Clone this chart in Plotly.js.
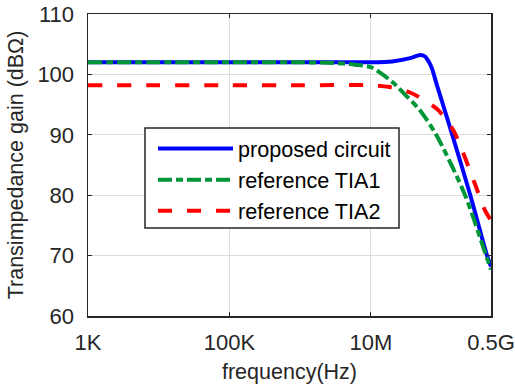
<!DOCTYPE html>
<html>
<head>
<meta charset="utf-8">
<script src="https://cdn.plot.ly/plotly-3.0.1.min.js"></script>
<style>html,body{margin:0;padding:0;background:#fff;}#chart{width:515px;height:389px;}</style>
</head>
<body>
<div id="chart"></div>
<script>
// frequency (Hz) and gain (dBΩ)
const freqProposed = [1e3, 1e5, 1e6, 5e6, 1e7, 2e7, 3.6e7, 5e7, 5.8e7, 6.6e7, 7.3e7, 8.5e7, 1.06e8, 1.45e8, 2.55e8, 4.4e8, 5e8];
const gainProposed = [102.0, 102.0, 102.0, 102.0, 102.0, 102.15, 102.7, 103.2, 103.0, 102.1, 101.0, 98.4, 94.8, 89.6, 80.0, 70.0, 68.2];

const freqTIA1 = [1e3, 1e5, 1e6, 3e6, 6e6, 1e7, 1.35e7, 2.07e7, 3.2e7, 5e7, 8.4e7, 2.15e8, 4.26e8, 5e8];
const gainTIA1 = [102.0, 102.0, 102.0, 101.9, 101.6, 101.2, 100.3, 98.6, 96.4, 94.0, 90.0, 80.0, 70.0, 67.7];

const freqTIA2 = [1e3, 1e5, 1e6, 1e7, 1.86e7, 3.58e7, 8.55e7, 1.47e8, 2.91e8, 4.03e8, 5e8];
const gainTIA2 = [98.2, 98.2, 98.2, 98.2, 97.9, 97.0, 94.3, 90.7, 82.1, 77.7, 75.8];

const seriesNames = ['proposed circuit', 'reference TIA1', 'reference TIA2'];
const xTickVals = [1e3, 1e5, 1e7, 5e8];
const xTickText = ['1K', '100K', '10M', '0.5G'];
const yTickVals = [60, 70, 80, 90, 100, 110];

const FONT = 'Liberation Sans, Arial, Helvetica, sans-serif';
const AX = '#262626';

const traces = [
  {x: freqProposed, y: gainProposed, name: seriesNames[0], mode: 'lines',
   line: {color: '#0000ff', width: 4, shape: 'spline', smoothing: 0.8}},
  {x: freqTIA1, y: gainTIA1, name: seriesNames[1], mode: 'lines',
   line: {color: '#009638', width: 4, dash: '14px,4px,7px,4px', shape: 'spline', smoothing: 0.8}},
  {x: freqTIA2, y: gainTIA2, name: seriesNames[2], mode: 'lines',
   line: {color: '#ff0000', width: 4, dash: '14px,15px', shape: 'spline', smoothing: 0.8}}
];

const layout = {
  width: 515, height: 389,
  margin: {l: 88, r: 24, t: 14, b: 73},
  paper_bgcolor: '#fff', plot_bgcolor: '#fff',
  font: {family: FONT, size: 21, color: AX},
  showlegend: true,
  legend: {
    x: 0.1613, y: 0.6225, xanchor: 'left', yanchor: 'top',
    bgcolor: 'rgba(0,0,0,0)', borderwidth: 0,
    font: {family: FONT, size: 21.6, color: '#000'},
    itemwidth: 75, tracegroupgap: 0
  },
  shapes: [{
    type: 'rect', xref: 'paper', yref: 'paper', layer: 'above',
    x0: 0.1414, x1: 0.7717, y0: 0.2914, y1: 0.6225,
    line: {color: AX, width: 1.5}, fillcolor: '#fff'
  }],
  xaxis: {
    type: 'log', range: [3, Math.log10(5e8)],
    tickvals: xTickVals, ticktext: xTickText,
    ticks: 'inside', ticklen: 4, tickwidth: 1.2, tickcolor: AX,
    showline: true, linecolor: AX, linewidth: 1.5, mirror: 'ticks',
    showgrid: true, gridcolor: '#dedede', gridwidth: 1,
    zeroline: false, ticklabelstandoff: 6,
    tickfont: {family: FONT, size: 22, color: AX},
    title: {text: 'frequency(Hz)', font: {family: FONT, size: 21.5, color: AX}, standoff: 10}
  },
  yaxis: {
    range: [60, 110], tickvals: yTickVals,
    ticks: 'inside', ticklen: 4, tickwidth: 1.2, tickcolor: AX,
    showline: true, linecolor: AX, linewidth: 1.5, mirror: 'ticks',
    showgrid: true, gridcolor: '#dedede', gridwidth: 1,
    zeroline: false, ticklabelstandoff: 8,
    tickfont: {family: FONT, size: 22, color: AX},
    title: {text: 'Transimpedance gain (dBΩ)', font: {family: FONT, size: 21.5, color: AX}, standoff: 8}
  }
};

Plotly.newPlot('chart', traces, layout, {staticPlot: true, displayModeBar: false});
</script>
</body>
</html>
